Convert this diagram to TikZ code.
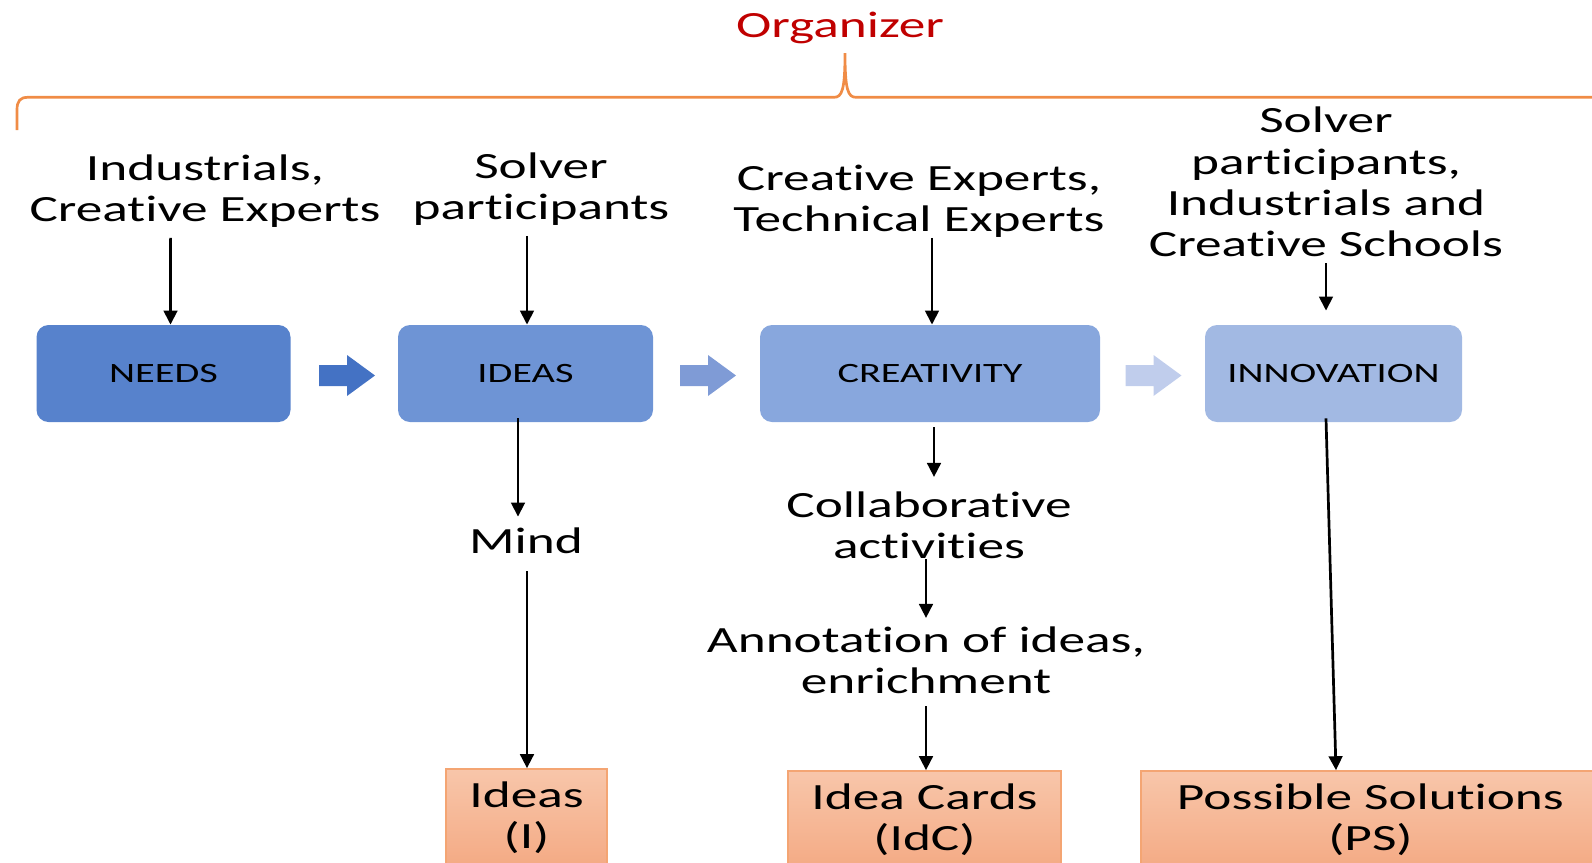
\documentclass[tikz,border=0pt]{standalone}
\usepackage{fontspec}
\setmainfont{Carlito}[FakeStretch=1.44, Ligatures=NoCommon]
\usetikzlibrary{arrows.meta,calc}
\definecolor{bneeds}{RGB}{87,130,204}
\definecolor{bideas}{RGB}{110,148,213}
\definecolor{bcreat}{RGB}{136,167,221}
\definecolor{binnov}{RGB}{162,185,227}
\definecolor{ar1c}{RGB}{68,114,196}
\definecolor{ar2c}{RGB}{127,155,214}
\definecolor{ar3c}{RGB}{192,205,236}
\definecolor{bracec}{RGB}{240,140,70}
\definecolor{orgc}{RGB}{192,0,0}
\definecolor{otop}{RGB}{248,198,170}
\definecolor{obot}{RGB}{244,170,132}
\definecolor{oborder}{RGB}{244,165,115}
\tikzset{
  txt/.style={font=\fontsize{18.5}{20.65}\selectfont, align=center, inner sep=0pt},
  stage/.style={rectangle, rounded corners=6pt, minimum height=48.5pt, inner sep=0pt,
    font=\fontsize{14}{16}\selectfont, text=black},
  outbox/.style={rectangle, draw=oborder, line width=0.8pt, top color=otop, bottom color=obot,
    minimum height=49pt, inner sep=0pt, align=center, font=\fontsize{18.5}{20.65}\selectfont},
  blockarrow/.style={draw=none},
  arr/.style={-{Triangle[length=7pt,width=6.8pt]}, line width=1.35pt},
  brace/.style={draw=bracec, line width=1.35pt}
}
% block arrow polygon around a centre coordinate
\newcommand{\blkarrow}[2]{%
  \fill[blockarrow, #2] ($(#1)+(-28,-10.5)$) -- ($(#1)+(0,-10.5)$) -- ($(#1)+(0,-20.5)$)
    -- ($(#1)+(28,0)$) -- ($(#1)+(0,20.5)$) -- ($(#1)+(0,10.5)$) -- ($(#1)+(-28,10.5)$) -- cycle;}
\begin{document}
\begin{tikzpicture}[x=0.5pt,y=-0.5pt]
\useasboundingbox (0,0) rectangle (1592,863);
\clip (0,0) rectangle (1592,863);

% Organizer and brace
\node[txt, text=orgc] (org) at (840,28) {Organizer};
\draw[brace] (17,130) -- (17,110) .. controls (17,101) and (20,97.3) .. (28,97.3)
  -- (834,97.3) .. controls (842,97.3) and (845,90) .. (845,53)
  .. controls (845,90) and (848,97.3) .. (856,97.3) -- (1600,97.3);

% Stage boxes
\node[stage, fill=bneeds, minimum width=127pt] (needs) at (163.5,373.5) {NEEDS};
\node[stage, fill=bideas, minimum width=127.5pt] (ideas) at (525.5,373.5) {IDEAS};
\node[stage, fill=bcreat, minimum width=170pt] (creat) at (930,373.5) {CREATIVITY};
\node[stage, fill=binnov, minimum width=128.5pt] (innov) at (1333.5,373.5) {INNOVATION};

% Block arrows
\coordinate (ba1) at (347,375.5);
\coordinate (ba2) at (708,375.5);
\coordinate (ba3) at (1153.5,375.5);
\blkarrow{ba1}{fill=ar1c}
\blkarrow{ba2}{fill=ar2c}
\blkarrow{ba3}{fill=ar3c}

% Actor texts
\node[txt] (t1) at (205,191) {Industrials,\\Creative Experts};
\node[txt] (t2) at (541,189) {Solver\\participants};
\node[txt] (t3) at (919,201) {Creative Experts,\\Technical Experts};
\node[txt] (t4) at (1326,182) {Solver\\participants,\\Industrials and\\Creative Schools};

% Intermediate texts
\node[txt] (mind) at (526,541) {Mind};
\node[txt] (collab) at (929,525) {Collaborative\\activities};
\node[txt] (annot) at (926,660) {Annotation of ideas,\\enrichment};

% Output boxes
\node[outbox, minimum width=80.5pt] (oI) at (526.5,818) {Ideas\\(I)};
\node[outbox, minimum width=136.5pt] (oIdC) at (924.5,820) {Idea Cards\\(IdC)};
\node[outbox, minimum width=229.5pt] (oPS) at (1370.5,820) {Possible Solutions\\(PS)};

% Connectors
\draw[arr] ([xshift=-17.2pt,yshift=-5pt]t1.south) -- ([xshift=3.5pt]needs.north);
\draw[arr] ([xshift=-7pt,yshift=-5pt]t2.south) -- ([xshift=0.75pt]ideas.north);
\draw[arr] ([xshift=6.5pt,yshift=0pt]t3.south) -- ([xshift=1pt]creat.north);
\draw[arr] ([yshift=-3pt]t4.south) -- ([xshift=-3.75pt,yshift=7pt]innov.north);
\draw[arr] ([xshift=-3.75pt,yshift=2pt]ideas.south) -- ([xshift=-4pt,yshift=5.5pt]mind.north);
\draw[arr] ([xshift=0.5pt,yshift=-8.5pt]mind.south) -- ([xshift=0.25pt]oI.north);
\draw[arr] ([xshift=2pt,yshift=-2.5pt]creat.south) -- ([xshift=2.5pt,yshift=7pt]collab.north);
\draw[arr] ([xshift=-1.5pt,yshift=0pt]collab.south) -- ([yshift=4pt]annot.north);
\draw[arr] ([yshift=-6pt]annot.south) -- ([xshift=0.75pt]oIdC.north);
\draw[arr] ([xshift=-3.75pt,yshift=2pt]innov.south) -- ([xshift=-17.25pt]oPS.north);
\end{tikzpicture}
\end{document}
